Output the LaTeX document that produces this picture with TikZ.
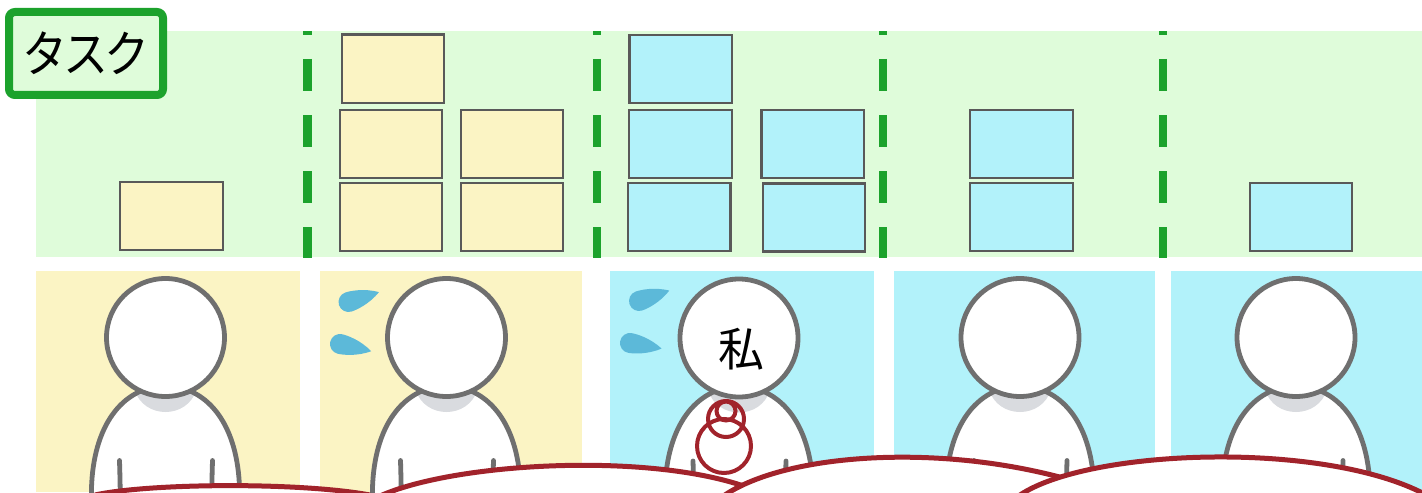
\documentclass[tikz,border=0pt]{standalone}
\usepackage{fontspec}
\newfontfamily\jpfont{Noto Sans CJK JP}
\newfontfamily\jpfontn[FakeStretch=0.9]{Noto Sans CJK JP}
\definecolor{lanegreen}{HTML}{DFFCDA}
\definecolor{sepgreen}{HTML}{1CA22C}
\definecolor{cardyellow}{HTML}{FBF4C4}
\definecolor{cardcyan}{HTML}{B2F2FA}
\definecolor{boxgray}{HTML}{595959}
\definecolor{figgray}{HTML}{6F6F6F}
\definecolor{neckshade}{HTML}{D9DBDF}
\definecolor{bubred}{HTML}{A1232B}
\definecolor{sweat}{HTML}{5CB9D9}
\tikzset{
  taskbox/.style={draw=boxgray, line width=1.1pt},
  sepline/.style={draw=sepgreen, line width=4.1pt, dash pattern=on 16pt off 12pt, dash phase=14pt},
  outline/.style={draw=figgray, line width=2.4pt},
  redline/.style={draw=bubred, line width=2.5pt},
  marker/.style={draw=bubred, line width=2pt},
  labelbox/.style={draw=sepgreen, fill=lanegreen, line width=4pt, rounded corners=3pt,
    minimum width=77pt, minimum height=41.5pt, inner sep=0pt,
    font=\jpfontn\fontsize{25pt}{25pt}\selectfont},
  person/.pic={
    \fill[white] (-74,175) -- (-74,150) .. controls (-72,90) and (-45,50) .. (0,48)
      .. controls (45,50) and (72,90) .. (74,150) -- (74,175) -- cycle;
    \fill[neckshade] (-31,52) .. controls (-22,82) and (22,82) .. (31,52) -- cycle;
    \draw[outline] (-74,175) -- (-74,150) .. controls (-72,90) and (-45,50) .. (0,48)
      .. controls (45,50) and (72,90) .. (74,150) -- (74,175);
    \draw[outline, line cap=round] (-46,123) .. controls (-45.5,140) .. (-45,170);
    \draw[outline, line cap=round] (47,123) .. controls (46.5,140) .. (46,170);
    \draw[outline, fill=white] (0,0) circle[radius=59];
  },
  drop/.pic={
    \fill[sweat] (32,0) .. controls (19,-8.5) and (5,-10) .. (0,-10)
      arc[start angle=270, end angle=90, radius=10]
      .. controls (5,10) and (19,8.5) .. (32,0) -- cycle;
  }
}
\begin{document}
\begin{tikzpicture}[x=0.5pt, y=-0.5pt]
\useasboundingbox (0,0) rectangle (1422,492);
\clip (0,0) rectangle (1422,492);

% task lane
\fill[lanegreen] (36,31) rectangle (1422,257);
\foreach \sx in {307.5, 597, 883, 1163}
  \draw[sepline] (\sx,31) -- (\sx,258);

% column 1
\draw[taskbox, fill=cardyellow] (120,182) rectangle (223,250);
% column 2
\draw[taskbox, fill=cardyellow] (342,34.5) rectangle (444,103);
\draw[taskbox, fill=cardyellow] (340,110) rectangle (442,178);
\draw[taskbox, fill=cardyellow] (461,110) rectangle (563,178);
\draw[taskbox, fill=cardyellow] (340,183) rectangle (442,251);
\draw[taskbox, fill=cardyellow] (461,183) rectangle (563,251);
% column 3
\draw[taskbox, fill=cardcyan] (629.5,35) rectangle (732,103);
\draw[taskbox, fill=cardcyan] (629,110) rectangle (732,178);
\draw[taskbox, fill=cardcyan] (761.5,110) rectangle (864,178);
\draw[taskbox, fill=cardcyan] (628,183) rectangle (730.5,251);
\draw[taskbox, fill=cardcyan] (763,183.5) rectangle (865,251.5);
% column 4
\draw[taskbox, fill=cardcyan] (970,110) rectangle (1073,178);
\draw[taskbox, fill=cardcyan] (970,183) rectangle (1073,251);
% column 5
\draw[taskbox, fill=cardcyan] (1250,183) rectangle (1352,251);

\node[labelbox] (tasklabel) at (86,53.5) {タ\kern-2ptス\kern-2ptク};

% member panels
\fill[cardyellow] (36,271) rectangle (300,492);
\fill[cardyellow] (320,271) rectangle (582,492);
\fill[cardcyan] (610,271) rectangle (874,492);
\fill[cardcyan] (894,271) rectangle (1155,492);
\fill[cardcyan] (1171,271) rectangle (1422,492);

\pic (m1) at (165.5,337.5) {person};
\pic (m2) at (446.5,337.5) {person};
\pic (m3) at (739,338) {person};
\pic (m4) at (1020,337.5) {person};
\pic (m5) at (1296,337.5) {person};

% sweat drops
\pic[rotate=18] (d1) at (348.5,302) {drop};
\pic[rotate=-13] (d2) at (340,344) {drop};
\pic[rotate=19] (d3) at (639,301) {drop};
\pic[rotate=-10] (d4) at (630,343) {drop};

\node[font=\jpfont\fontsize{23pt}{23pt}\selectfont] (me) at (741,349) {私};

% marks on the body
\draw[marker] (724,446) circle[radius=27];
\draw[marker] (726,419) circle[radius=18];
\draw[marker] (726,411) circle[radius=9.5];

% bubbles along the bottom
\fill[white] (95,495) .. controls (150,483) and (300,482) .. (370,495) -- (370,510) -- (95,510) -- cycle;
\draw[redline] (95,495) .. controls (150,483) and (300,482) .. (370,495);
\fill[white] (380,496) .. controls (460,460) and (680,450) .. (770,497) -- (770,510) -- (380,510) -- cycle;
\draw[redline] (380,496) .. controls (460,460) and (680,450) .. (770,497);
\fill[white] (722,497) .. controls (790,448) and (980,440) .. (1120,497) -- (1120,510) -- (722,510) -- cycle;
\draw[redline] (722,497) .. controls (790,448) and (980,440) .. (1120,497);
\fill[white] (1020,495) .. controls (1090,448) and (1330,440) .. (1430,497) -- (1430,510) -- (1020,510) -- cycle;
\draw[redline] (1020,495) .. controls (1090,448) and (1330,440) .. (1430,497);
\end{tikzpicture}
\end{document}
